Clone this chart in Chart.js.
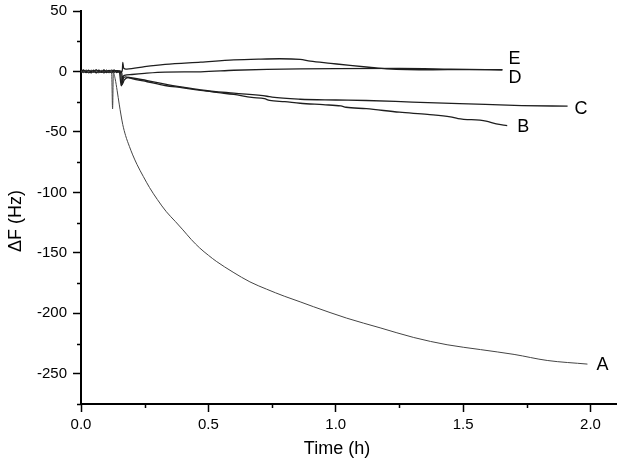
<!DOCTYPE html>
<html>
<head>
<meta charset="utf-8">
<script src="https://cdn.jsdelivr.net/npm/chart.js@4.4.1/dist/chart.umd.min.js"></script>
<style>
  html, body { margin: 0; padding: 0; background: #fff; }
  #wrap { width: 619px; height: 470px; }
</style>
</head>
<body>
<div id="wrap"><canvas id="qcm"></canvas></div>
<script>
// Time (h) / frequency shift (Hz) for each trace
const tA = [0, 0.01, 0.02, 0.03, 0.04, 0.05, 0.06, 0.07, 0.08, 0.09, 0.10, 0.11, 0.12, 0.124, 0.127, 0.134, 0.142, 0.15, 0.157, 0.164, 0.175, 0.19, 0.203, 0.22, 0.245, 0.269, 0.30, 0.335, 0.37, 0.40, 0.433, 0.466, 0.50, 0.531, 0.597, 0.663, 0.728, 0.80, 0.86, 0.912, 1.043, 1.174, 1.306, 1.437, 1.568, 1.70, 1.83, 1.988];
const fA = [0.5, -1, 1, -0.5, 1.2, -0.8, 0.6, -1.1, 0.9, -0.4, 1, -0.7, 0.6, -31, -1, -6, -16, -27, -36, -44, -53, -62, -69, -77, -87, -96, -106, -116, -124, -131, -139, -146, -152, -157, -166, -174, -180, -186, -190.5, -194.5, -204, -212, -220, -226, -230, -234, -239, -242];

const tB = [0, 0.01, 0.02, 0.03, 0.04, 0.05, 0.06, 0.07, 0.08, 0.09, 0.10, 0.11, 0.12, 0.13, 0.14, 0.155, 0.16, 0.17, 0.185, 0.20, 0.26, 0.33, 0.40, 0.47, 0.54, 0.60, 0.67, 0.72, 0.74, 0.80, 0.86, 0.95, 1.02, 1.04, 1.12, 1.25, 1.36, 1.45, 1.48, 1.59, 1.63, 1.673];
const fB = [-1, 0.8, -0.5, 1, -1.2, 0.4, -0.9, 1.1, -0.6, 0.7, -1, 0.5, -0.6, 0.9, 0.5, -0.5, -11, -7, -5, -6, -8.5, -11.6, -13.5, -15.7, -17.5, -19, -21.5, -22.5, -24, -25, -26.3, -27.5, -28.5, -29.6, -30.8, -33.7, -35.5, -37.5, -39, -41, -43.4, -44.8];

const tC = [0, 0.01, 0.02, 0.03, 0.04, 0.05, 0.06, 0.07, 0.08, 0.09, 0.10, 0.11, 0.12, 0.13, 0.14, 0.15, 0.158, 0.165, 0.175, 0.19, 0.26, 0.33, 0.40, 0.47, 0.60, 0.73, 0.75, 0.86, 1.0, 1.12, 1.3, 1.52, 1.73, 1.91];
const fC = [1, -0.6, 0.8, -1, 0.5, -0.4, 1.1, -0.8, 0.3, -1.2, 0.9, -0.5, 1.1, -0.8, 0.6, 0.3, -12, -6, -4.5, -5, -7.5, -10.5, -13, -15.2, -18, -20.5, -21.3, -23, -23.6, -24, -25.3, -26.8, -28.2, -28.7];

const tD = [0, 0.01, 0.02, 0.03, 0.04, 0.05, 0.06, 0.07, 0.08, 0.09, 0.10, 0.11, 0.12, 0.13, 0.14, 0.15, 0.16, 0.163, 0.166, 0.17, 0.2, 0.25, 0.33, 0.47, 0.6, 0.73, 0.86, 1.0, 1.25, 1.45, 1.654];
const fD = [-0.4, 1.2, -0.9, 0.7, -0.3, 1, -1.1, 0.6, -0.8, 1.2, -0.5, 0.8, -1.1, 0.4, 0.6, -0.9, -0.5, -10, -4, -3.3, -2.5, -1.5, -0.5, -0.3, 1, 1.8, 2.2, 2.4, 2.5, 2.0, 1.4];

const tE = [0, 0.01, 0.02, 0.03, 0.04, 0.05, 0.06, 0.07, 0.08, 0.09, 0.10, 0.11, 0.12, 0.13, 0.14, 0.15, 0.162, 0.164, 0.167, 0.172, 0.18, 0.25, 0.33, 0.47, 0.6, 0.7, 0.78, 0.86, 0.9, 0.98, 1.056, 1.13, 1.2, 1.38, 1.5, 1.654];
const fE = [0.2, -0.7, 0.9, -1, 0.6, -0.5, 1.3, -0.9, 0.4, -0.3, 0.8, -1, 0.3, 1, -0.9, 0.5, 0, 7.5, 3, 2.2, 2, 4, 5.8, 7.7, 9.5, 10.2, 10.5, 10, 8.5, 6.7, 5, 3.5, 2.2, 1.4, 1.6, 1.4];

const traceNames = ['A', 'B', 'C', 'D', 'E'];
const traceTimes = [tA, tB, tC, tD, tE];
const traceShifts = [fA, fB, fC, fD, fE];

// pixel nudges for the letters placed next to each trace end
const labelNudge = { A: [9, 1], B: [10, 1], C: [7, 3], D: [6, 8], E: [6, -11] };
const FONT = "'Liberation Sans', Arial, Helvetica, sans-serif";

const datasets = traceNames.map((name, i) => ({
  label: name,
  data: traceTimes[i].map((t, j) => ({ x: t, y: traceShifts[i][j] })),
  borderColor: name === 'A' ? '#444' : '#1e1e1e',
  borderWidth: name === 'A' ? 1 : 1.3,
  pointRadius: 0,
  cubicInterpolationMode: 'monotone',
  fill: false
}));

const isMajor = (v, step) => Math.abs(v / step - Math.round(v / step)) < 1e-6;

// short minor ticks (Chart.js has one tick length per axis)
const minorTicks = {
  id: 'minorTicks',
  afterDraw(chart) {
    const { ctx } = chart;
    const xs = chart.scales.x, ys = chart.scales.y;
    ctx.save();
    ctx.strokeStyle = '#000';
    ctx.lineWidth = 1.5;
    ctx.beginPath();
    xs.ticks.forEach(t => {
      if (isMajor(t.value, 0.5)) return;
      const px = Math.round(xs.getPixelForValue(t.value)) + 0.5;
      ctx.moveTo(px, xs.top); ctx.lineTo(px, xs.top + 4);
    });
    ys.ticks.forEach(t => {
      if (isMajor(t.value, 50)) return;
      const py = Math.round(ys.getPixelForValue(t.value)) + 0.5;
      ctx.moveTo(ys.right, py); ctx.lineTo(ys.right - 4, py);
    });
    ctx.stroke();
    ctx.restore();
  }
};

// letters at the trace ends + axis titles
const annotations = {
  id: 'annotations',
  afterDraw(chart) {
    const { ctx } = chart;
    ctx.save();
    ctx.fillStyle = '#000';
    ctx.font = '18px ' + FONT;
    ctx.textBaseline = 'middle';
    ctx.textAlign = 'left';
    chart.data.datasets.forEach((ds, i) => {
      const pts = chart.getDatasetMeta(i).data;
      const last = pts[pts.length - 1];
      const n = labelNudge[ds.label];
      ctx.fillText(ds.label, last.x + n[0], last.y + n[1]);
    });

    ctx.textAlign = 'center';
    ctx.fillText('Time (h)', 337, 449);
    ctx.translate(16, 221);
    ctx.rotate(-Math.PI / 2);
    ctx.fillText('\u0394F (Hz)', 0, 0);
    ctx.restore();
  }
};

new Chart(document.getElementById('qcm'), {
  type: 'line',
  data: { datasets },
  options: {
    responsive: true,
    maintainAspectRatio: false,
    animation: false,
    layout: { padding: { left: 0, top: 11, right: 3, bottom: 0 } },
    plugins: { legend: { display: false }, tooltip: { enabled: false } },
    scales: {
      x: {
        type: 'linear',
        min: 0,
        max: 2.1,
        afterFit: s => { s.height = 66; s.paddingLeft = 0; s.paddingRight = 0; },
        border: { display: true, color: '#000', width: 2 },
        grid: {
          drawOnChartArea: false,
          tickLength: 8,
          tickWidth: 1.5,
          tickColor: c => isMajor(c.tick.value, 0.5) ? '#000' : 'rgba(0,0,0,0)'
        },
        ticks: {
          stepSize: 0.25,
          includeBounds: false,
          autoSkip: false,
          maxRotation: 0,
          padding: 4,
          color: '#000',
          font: { family: FONT, size: 15 },
          callback: v => isMajor(v, 0.5) ? v.toFixed(1) : ''
        }
      },
      y: {
        min: -275,
        max: 50,
        afterFit: s => { s.width = 81; s.paddingTop = 0; s.paddingBottom = 0; },
        border: { display: true, color: '#000', width: 2 },
        grid: {
          drawOnChartArea: false,
          tickLength: 8,
          tickWidth: 1.5,
          tickColor: c => isMajor(c.tick.value, 50) ? '#000' : 'rgba(0,0,0,0)'
        },
        ticks: {
          stepSize: 25,
          includeBounds: false,
          autoSkip: false,
          padding: 6,
          color: '#000',
          font: { family: FONT, size: 15 },
          callback: v => isMajor(v, 50) ? String(v) : ''
        }
      }
    }
  },
  plugins: [minorTicks, annotations]
});
</script>
</body>
</html>
